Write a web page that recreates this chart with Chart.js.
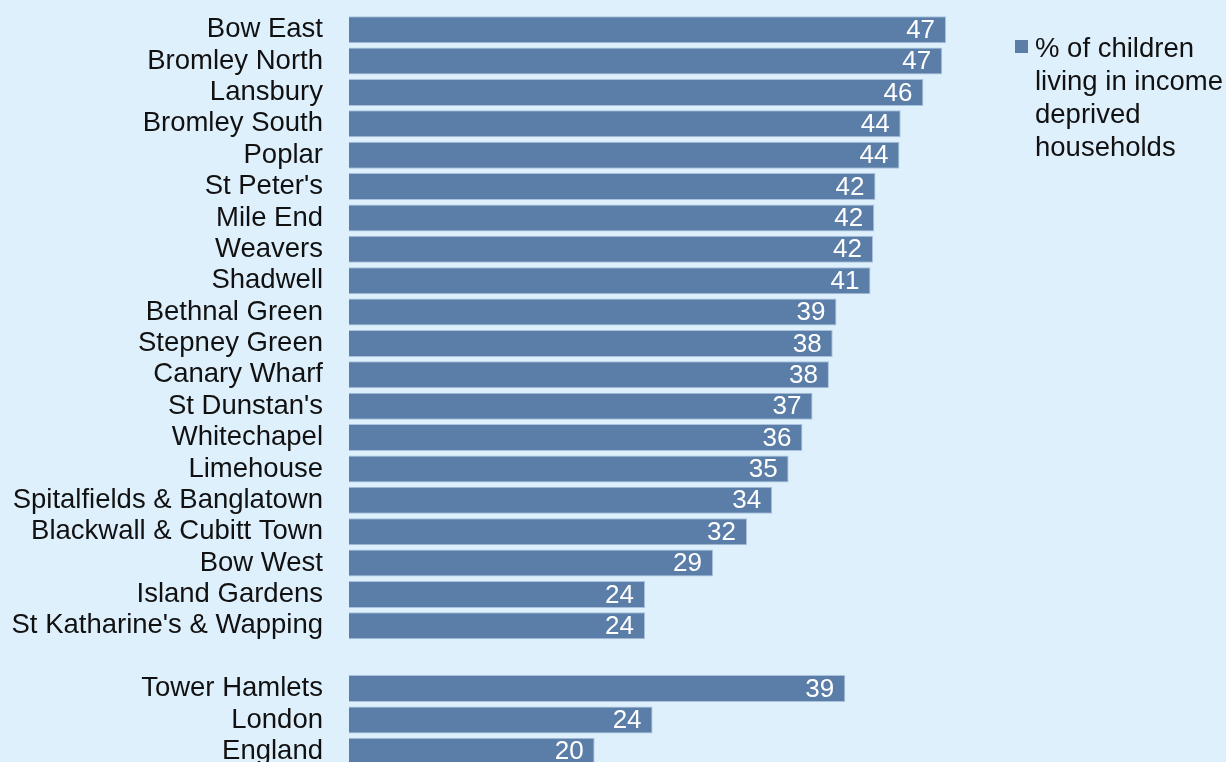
<!DOCTYPE html>
<html>
<head>
<meta charset="utf-8">
<script src="https://cdn.jsdelivr.net/npm/chart.js@4.4.0/dist/chart.umd.min.js"></script>
<style>
  html, body { margin: 0; padding: 0; background: #dff0fd; overflow: hidden; }
  #wrap { position: relative; width: 1226px; height: 767px; }
  #legend {
    position: absolute; left: 1015px; top: 31px; width: 240px;
    font-family: "Liberation Sans", Arial, sans-serif; font-size: 27.5px;
    line-height: 33px; color: #111; white-space: nowrap;
  }
  #legend .box {
    position: absolute; left: 0; top: 9px; width: 13px; height: 13px; background: #5a7ea8;
  }
  #legend .txt { margin-left: 20px; }
</style>
</head>
<body>
<div id="wrap">
  <canvas id="chart" width="1226" height="767"></canvas>
  <div id="legend"><div class="box"></div><div class="txt">% of children<br>living in income<br>deprived<br>households</div></div>
</div>
<script>
// wards, then a blank row, then the comparators
const wards = ["Bow East", "Bromley North", "Lansbury", "Bromley South", "Poplar",
  "St Peter's", "Mile End", "Weavers", "Shadwell", "Bethnal Green", "Stepney Green",
  "Canary Wharf", "St Dunstan's", "Whitechapel", "Limehouse", "Spitalfields & Banglatown",
  "Blackwall & Cubitt Town", "Bow West", "Island Gardens", "St Katharine's & Wapping"];
const wardValues = [47.4, 47.1, 45.6, 43.8, 43.7, 41.8, 41.7, 41.6, 41.4, 38.7, 38.4,
  38.1, 36.8, 36.0, 34.9, 33.6, 31.6, 28.9, 23.5, 23.5];
const areas = ["Tower Hamlets", "London", "England"];
const areaValues = [39.4, 24.1, 19.5];
const seriesName = "% of children living in income deprived households";

const labels = [...wards, "", ...areas];
const values = [...wardValues, null, ...areaValues];

const valueLabels = {
  id: 'valueLabels',
  afterDatasetsDraw(chart) {
    const ctx = chart.ctx;
    const meta = chart.getDatasetMeta(0);
    ctx.save();
    ctx.font = '26px "Liberation Sans", Arial, sans-serif';
    ctx.fillStyle = '#ffffff';
    ctx.textAlign = 'right';
    ctx.textBaseline = 'middle';
    meta.data.forEach((bar, i) => {
      const v = values[i];
      if (v == null) return;
      ctx.fillText(Math.round(v), bar.x - 11, bar.y + 1);
    });
    ctx.restore();
  }
};

new Chart(document.getElementById('chart'), {
  type: 'bar',
  data: {
    labels: labels,
    datasets: [{
      label: seriesName,
      data: values,
      backgroundColor: '#5a7ea8',
      borderColor: '#a9c1dc',
      borderWidth: 1,
      borderSkipped: 'left',
      categoryPercentage: 1.0,
      barPercentage: 0.86
    }]
  },
  options: {
    indexAxis: 'y',
    responsive: false,
    animation: false,
    layout: { padding: { left: 0, right: 222, top: 14, bottom: 0 } },
    plugins: { legend: { display: false }, tooltip: { enabled: false } },
    scales: {
      x: { display: false, min: 0, max: 52 },
      y: {
        grid: { display: false, drawTicks: false },
        border: { display: false },
        afterFit(scale) {
          scale.width = 349;
          scale.paddingTop = 0;
          scale.paddingBottom = 0;
        },
        ticks: {
          autoSkip: false,
          padding: 26,
          color: '#111',
          font: { family: '"Liberation Sans", Arial, sans-serif', size: 27.5 }
        }
      }
    }
  },
  plugins: [valueLabels]
});
</script>
</body>
</html>
